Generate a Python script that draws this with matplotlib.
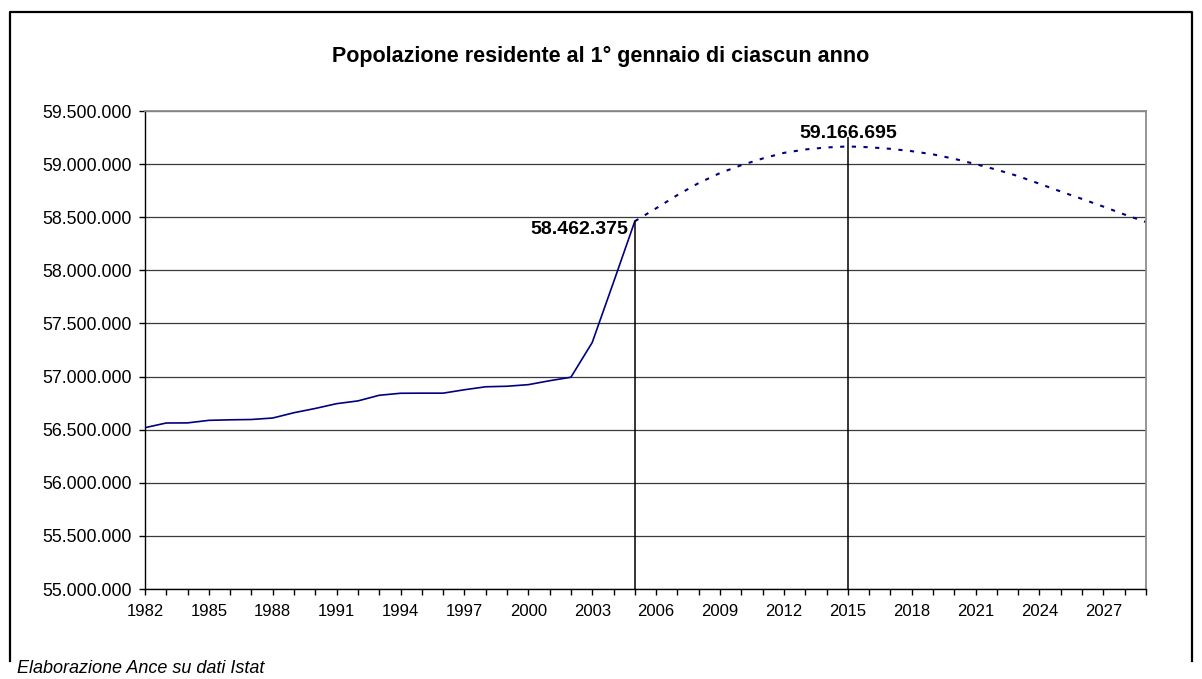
import matplotlib
matplotlib.use('Agg')
import matplotlib.pyplot as plt
from matplotlib.lines import Line2D
from matplotlib.ticker import FuncFormatter, MultipleLocator, FixedLocator

plt.rcParams['font.family'] = ['Liberation Sans', 'DejaVu Sans']

# resident population on 1 January (historical, Istat)
years_hist = list(range(1982, 2006))
pop_hist = [56519000, 56563000, 56564000, 56588000, 56593000, 56596000,
            56610000, 56660000, 56700000, 56745000, 56771000, 56824000,
            56843000, 56844000, 56844000, 56876000, 56904000, 56909000,
            56924000, 56961000, 56994000, 57321070, 57888245, 58462375]

# projection
years_proj = list(range(2005, 2030))
pop_proj = [58462375, 58584000, 58709000, 58822000, 58916000, 58990000,
            59053000, 59106000, 59138000, 59157000, 59166695, 59159000,
            59144000, 59122000, 59092000, 59050000, 59000000, 58947000,
            58887000, 58815000, 58742000, 58672000, 58600000, 58525000,
            58455000]

label_years = list(range(1982, 2030, 3))
title = 'Popolazione residente al 1° gennaio di ciascun anno'
source = 'Elaborazione Ance su dati Istat'


def dots(v, pos=None):
    return f'{int(round(v)):,}'.replace(',', '.')


fig = plt.figure(figsize=(12.02, 6.79), dpi=100)
ax = fig.add_axes([0.1206, 0.1325, 0.8328, 0.704])

ax.plot(years_hist, pop_hist, color='#000080', lw=1.2, solid_joinstyle='round')
ax.plot(years_proj, pop_proj, color='#000080', lw=1.5, ls=(0, (2.0, 3.6)))

# markers for start of projection and peak
i_peak = pop_proj.index(max(pop_proj))
y_start, y_peak = pop_hist[-1], pop_proj[i_peak]
ax.vlines(years_hist[-1], 55e6, y_start, color='black', lw=1.1)
ax.vlines(years_proj[i_peak], 55e6, y_peak + 90000, color='black', lw=1.1)
ax.annotate(dots(y_start), xy=(years_hist[-1], y_start), xytext=(-5, -6),
            textcoords='offset points', ha='right', va='center',
            fontsize=14, fontweight='bold')
ax.annotate(dots(y_peak), xy=(years_proj[i_peak], y_peak), xytext=(0, 6),
            textcoords='offset points', ha='center', va='baseline',
            fontsize=14, fontweight='bold')

ax.set_xlim(1982, 2029)
ax.set_ylim(55e6, 59.5e6)
ax.yaxis.set_major_locator(MultipleLocator(500000))
ax.yaxis.set_major_formatter(FuncFormatter(dots))
ax.xaxis.set_major_locator(FixedLocator(label_years))
ax.xaxis.set_minor_locator(MultipleLocator(1))
ax.tick_params(axis='both', which='both', direction='out', length=4,
               width=1, colors='black')
ax.tick_params(axis='y', pad=5.5, labelsize=12.8)
ax.tick_params(axis='x', pad=7, labelsize=12)

ax.yaxis.grid(True, color='#3a3a3a', lw=0.9)
ax.set_axisbelow(True)
for s in ['top', 'right']:
    ax.spines[s].set_color('#8c8c8c')
    ax.spines[s].set_linewidth(1.3)
for s in ['left', 'bottom']:
    ax.spines[s].set_color('black')
    ax.spines[s].set_linewidth(1.0)

fig.text(0.5, 0.917, title, ha='center', va='center', fontsize=15.5,
         fontweight='bold')
fig.text(0.014, 0.016, source, ha='left', va='center', fontsize=13,
         style='italic')

# outer chart border (cut at the bottom)
x0, x1 = 9.5 / 1202, 1192 / 1202
y0, y1 = 1 - 661 / 679, 1 - 11.5 / 679
fig.add_artist(Line2D([x0, x0, x1, x1], [y0, y1, y1, y0], color='black',
                      lw=1.6, transform=fig.transFigure))

fig.savefig('out.png', dpi=100)
